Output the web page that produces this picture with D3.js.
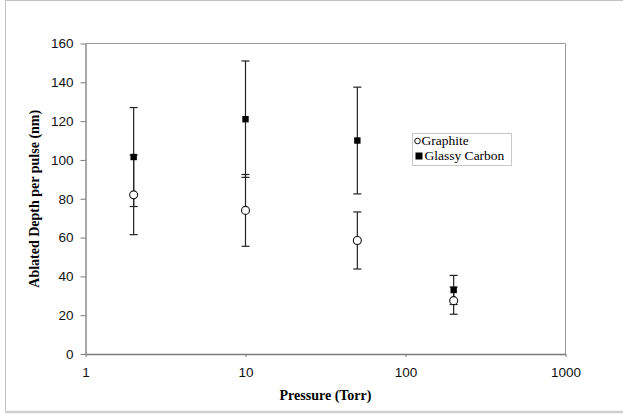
<!DOCTYPE html>
<html>
<head>
<meta charset="utf-8">
<script src="https://cdn.jsdelivr.net/npm/d3@7"></script>
<style>
  body { margin: 0; background: #fff; }
  svg { display: block; }
</style>
</head>
<body>
<div id="chart"></div>
<script>
(function () {

// data
var pressures = [2, 10, 50, 200];
var graphite = [82, 74, 58.5, 27.5];
var graphiteErr = [20.5, 18.5, 14.7, 7];
var glassy = [101.5, 121, 110, 33];
var glassyErr = [25.5, 30, 27.5, 7.5];
var xTicks = [1, 10, 100, 1000];
var yTicks = [0, 20, 40, 60, 80, 100, 120, 140, 160];

var width = 623, height = 417;
var margin = {top: 43.5, right: 57.5, bottom: 63, left: 85.5};

var svg = d3.select('#chart')
            .append('svg')
            .attr('width', width)
            .attr('height', height);

// outer frame
svg.append('line').attr('x1', 5.5).attr('x2', 5.5).attr('y1', 0).attr('y2', 412)
   .attr('stroke', '#c4c4c4').attr('stroke-width', 1);
svg.append('line').attr('x1', 5).attr('x2', width).attr('y1', 0.5).attr('y2', 0.5)
   .attr('stroke', '#c4c4c4').attr('stroke-width', 1);
svg.append('line').attr('x1', 5).attr('x2', width).attr('y1', 412).attr('y2', 412)
   .attr('stroke', '#d0d0d0').attr('stroke-width', 2.5);

var x = d3.scaleLog()
          .domain([1, 1000])
          .range([margin.left, width - margin.right]);

var y = d3.scaleLinear()
          .domain([0, 160])
          .range([height - margin.bottom, margin.top]);

// plot border (top / right)
svg.append('path')
   .attr('d', 'M' + x(1) + ',' + y(160) + 'H' + x(1000) + 'V' + y(0))
   .attr('fill', 'none')
   .attr('stroke', '#9a9a9a')
   .attr('stroke-width', 1);

var xAxis = svg.append('g')
   .attr('transform', 'translate(0,' + y(0) + ')')
   .call(d3.axisBottom(x).tickValues(xTicks).tickFormat(d3.format('d')).tickSize(3).tickSizeOuter(0));

var yAxis = svg.append('g')
   .attr('transform', 'translate(' + x(1) + ',0)')
   .call(d3.axisLeft(y).tickValues(yTicks).tickSize(5).tickSizeOuter(0));

[xAxis, yAxis].forEach(function (a) {
  a.select('.domain').attr('stroke', '#7a7a7a').attr('stroke-width', 1.3);
  a.selectAll('.tick line').attr('stroke', '#7a7a7a');
  a.selectAll('.tick text')
   .attr('font-family', 'Liberation Sans, Arial, sans-serif')
   .attr('font-size', '13.5px')
   .attr('fill', '#111');
});
xAxis.selectAll('.tick text').attr('dy', '0.71em').attr('y', 13);
yAxis.selectAll('.tick text').attr('x', -12);

// axis titles
svg.append('text')
   .attr('x', (x(1) + x(1000)) / 2)
   .attr('y', 400)
   .attr('text-anchor', 'middle')
   .attr('font-family', 'Liberation Serif, Times New Roman, serif')
   .attr('font-weight', 'bold')
   .attr('font-size', '14px')
   .text('Pressure (Torr)');

svg.append('text')
   .attr('transform', 'translate(39,' + (y(0) + y(160)) / 2 + ') rotate(-90)')
   .attr('text-anchor', 'middle')
   .attr('font-family', 'Liberation Serif, Times New Roman, serif')
   .attr('font-weight', 'bold')
   .attr('font-size', '14px')
   .text('Ablated Depth per pulse (nm)');

// error bars
function errorBars(vals, errs) {
  var g = svg.append('g').attr('stroke', '#222').attr('stroke-width', 1.2);
  pressures.forEach(function (p, i) {
    var cx = x(p), lo = y(vals[i] - errs[i]), hi = y(vals[i] + errs[i]);
    g.append('line').attr('x1', cx).attr('x2', cx).attr('y1', lo).attr('y2', hi);
    g.append('line').attr('x1', cx - 4).attr('x2', cx + 4).attr('y1', lo).attr('y2', lo);
    g.append('line').attr('x1', cx - 4).attr('x2', cx + 4).attr('y1', hi).attr('y2', hi);
  });
}
errorBars(graphite, graphiteErr);
errorBars(glassy, glassyErr);

// graphite: open circles
svg.append('g').selectAll('circle')
   .data(graphite)
   .enter().append('circle')
   .attr('cx', function (d, i) { return x(pressures[i]); })
   .attr('cy', function (d) { return y(d); })
   .attr('r', 4)
   .attr('fill', '#fff')
   .attr('stroke', '#111')
   .attr('stroke-width', 1.1);

// glassy carbon: filled squares
svg.append('g').selectAll('rect')
   .data(glassy)
   .enter().append('rect')
   .attr('x', function (d, i) { return x(pressures[i]) - 3.2; })
   .attr('y', function (d) { return y(d) - 3.2; })
   .attr('width', 6.4)
   .attr('height', 6.4)
   .attr('fill', '#000');

// legend
var legend = svg.append('g').attr('transform', 'translate(412,133)');
legend.append('rect')
   .attr('x', 0.5).attr('y', 0.5)
   .attr('width', 99).attr('height', 32)
   .attr('fill', '#fff')
   .attr('stroke', '#c8c8c8');
legend.append('circle')
   .attr('cx', 5.5).attr('cy', 8)
   .attr('r', 2.8)
   .attr('fill', '#fff')
   .attr('stroke', '#111');
legend.append('rect')
   .attr('x', 3.5).attr('y', 19.5).attr('width', 7).attr('height', 7)
   .attr('fill', '#000');
legend.append('text')
   .attr('x', 9.5).attr('y', 12)
   .attr('font-family', 'Liberation Serif, Times New Roman, serif')
   .attr('font-size', '13.5px')
   .text('Graphite');
legend.append('text')
   .attr('x', 12.5).attr('y', 27.2)
   .attr('font-family', 'Liberation Serif, Times New Roman, serif')
   .attr('font-size', '13.5px')
   .text('Glassy Carbon');

})();
</script>
</body>
</html>
